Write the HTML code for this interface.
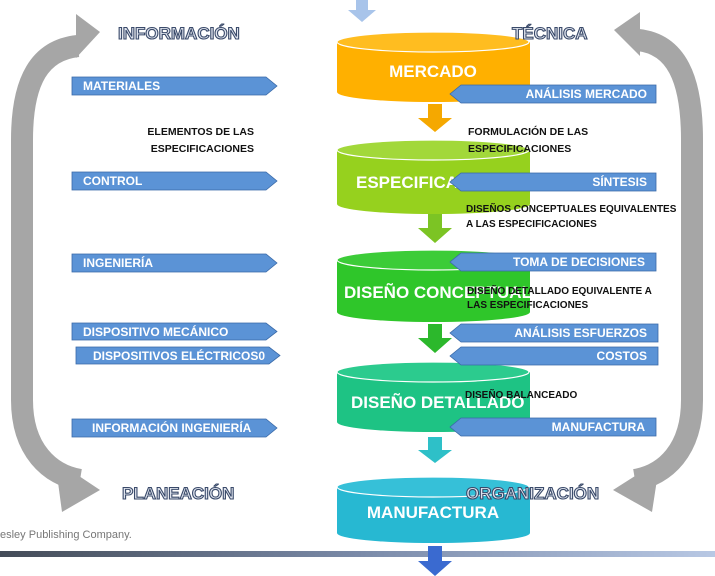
<!DOCTYPE html>
<html><head><meta charset="utf-8"><style>
body{margin:0;background:#fff;}
svg{display:block;font-family:"Liberation Sans",sans-serif;}
.b{font-weight:bold;font-size:12px;fill:#fff;}
.k{font-weight:bold;font-size:10.5px;fill:#111;}
.c{font-weight:bold;font-size:17px;fill:#fff;}
.o{font-weight:bold;font-size:17px;fill:#dfe4ee;stroke:#3a4a6a;stroke-width:1.1;}
</style></head><body>
<svg width="715" height="576" viewBox="0 0 715 576">
<defs>
<linearGradient id="g" x1="0" x2="1"><stop offset="0" stop-color="#444c58"/><stop offset="0.5" stop-color="#7a8aa8"/><stop offset="1" stop-color="#b8c8e4"/></linearGradient>
</defs>
<path d="M78,46 C40,50 22,80 22,140 L22,400 C22,450 50,475 80,480" fill="none" stroke="#a6a6a6" stroke-width="22"/>
<polygon points="76,14 100,32 76,58" fill="#a6a6a6"/>
<polygon points="55,460 100,490 62,512" fill="#a6a6a6"/>
<path d="M638,40 C676,44 692,78 692,140 L692,400 C692,450 665,475 635,480" fill="none" stroke="#a6a6a6" stroke-width="22"/>
<polygon points="640,12 614,30 640,56" fill="#a6a6a6"/>
<polygon points="660,460 613,490 652,512" fill="#a6a6a6"/>
<polygon points="356,0 368,0 368,10 376,10 362,22 348,10 356,10" fill="#a8c4ea"/>
<g>
<path d="M337,42 L337,92 A96,10 0 0 0 530,92 L530,42 Z" fill="#ffb000"/>
<ellipse cx="433" cy="42" rx="96" ry="10" fill="#ffbd20" stroke="#fff" stroke-width="1.2"/>
<text x="433" y="77" text-anchor="middle" class="c">MERCADO</text>
<path d="M337,150 L337,204 A96,10 0 0 0 530,204 L530,150 Z" fill="#96d11e"/>
<ellipse cx="433" cy="150" rx="96" ry="10" fill="#a2d83a" stroke="#fff" stroke-width="1.2"/>
<text x="356" y="188" class="c">ESPECIFICA</text>
<path d="M337,260 L337,312 A96,10 0 0 0 530,312 L530,260 Z" fill="#2fc62a"/>
<ellipse cx="433" cy="260" rx="96" ry="10" fill="#3ccc38" stroke="#fff" stroke-width="1.2"/>
<text x="344" y="298" class="c" font-size="19">DISEÑO CONCEPTUAL</text>
<path d="M337,372 L337,422 A96,10 0 0 0 530,422 L530,372 Z" fill="#1ec384"/>
<ellipse cx="433" cy="372" rx="96" ry="10" fill="#2ccb8e" stroke="#fff" stroke-width="1.2"/>
<text x="351" y="408" class="c" font-size="18">DISEÑO DETALLADO</text>
<path d="M337,487 L337,533 A96,10 0 0 0 530,533 L530,487 Z" fill="#27b8d2"/>
<ellipse cx="433" cy="487" rx="96" ry="10" fill="#36c0d8" stroke="#fff" stroke-width="1.2"/>
<text x="433" y="518" text-anchor="middle" class="c">MANUFACTURA</text>
</g>
<polygon points="428,104 442,104 442,118 452,118 435,132 418,118 428,118" fill="#f5a800"/>
<polygon points="428,214 442,214 442,228 452,228 435,243 418,228 428,228" fill="#7cc424"/>
<polygon points="428,324 442,324 442,338 452,338 435,353 418,338 428,338" fill="#2cb82c"/>
<polygon points="428,437 442,437 442,450 452,450 435,463 418,450 428,450" fill="#2ec0c8"/>
<g fill="#5b93d6" stroke="#3a6aa8" stroke-width="0.8">
<polygon points="72,77 266,77 277,86 266,95 72,95"/>
<polygon points="72,172 266,172 277,181 266,190 72,190"/>
<polygon points="72,254 266,254 277,263 266,272 72,272"/>
<polygon points="72,323 266,323 277,331.5 266,340 72,340"/>
<polygon points="76,347 269,347 280,355.5 269,364 76,364"/>
<polygon points="72,419 266,419 277,428 266,437 72,437"/>
</g>
<g class="b">
<text x="83" y="90">MATERIALES</text>
<text x="83" y="185">CONTROL</text>
<text x="83" y="267">INGENIERÍA</text>
<text x="83" y="336">DISPOSITIVO MECÁNICO</text>
<text x="93" y="360">DISPOSITIVOS ELÉCTRICOS0</text>
<text x="92" y="432">INFORMACIÓN INGENIERÍA</text>
</g>
<g fill="#5b93d6" stroke="#3a6aa8" stroke-width="0.8">
<polygon points="461,85 656,85 656,103 461,103 450,94"/>
<polygon points="461,173 656,173 656,191 461,191 450,182"/>
<polygon points="461,253 656,253 656,271 461,271 450,262"/>
<polygon points="461,324 658,324 658,342 461,342 450,333"/>
<polygon points="461,347 658,347 658,365 461,365 450,356"/>
<polygon points="461,418 656,418 656,436 461,436 450,427"/>
</g>
<g class="b" text-anchor="end">
<text x="647" y="98">ANÁLISIS MERCADO</text>
<text x="647" y="186">SÍNTESIS</text>
<text x="645" y="266">TOMA DE DECISIONES</text>
<text x="647" y="337">ANÁLISIS ESFUERZOS</text>
<text x="647" y="360">COSTOS</text>
<text x="645" y="431">MANUFACTURA</text>
</g>
<g class="k">
<text x="254" y="135" text-anchor="end">ELEMENTOS DE LAS</text>
<text x="254" y="152" text-anchor="end">ESPECIFICACIONES</text>
<text x="468" y="135">FORMULACIÓN DE LAS</text>
<text x="468" y="152">ESPECIFICACIONES</text>
<text x="466" y="212" font-size="10">DISEÑOS CONCEPTUALES EQUIVALENTES</text>
<text x="466" y="227" font-size="10">A LAS ESPECIFICACIONES</text>
<text x="467" y="294" font-size="10">DISEÑO DETALLADO EQUIVALENTE A</text>
<text x="467" y="308" font-size="10">LAS ESPECIFICACIONES</text>
<text x="465" y="398" font-size="10">DISEÑO BALANCEADO</text>
</g>
<text x="118" y="39" class="o">INFORMACIÓN</text>
<text x="512" y="39" class="o">TÉCNICA</text>
<text x="122" y="499" class="o" font-size="15.5">PLANEACIÓN</text>
<text x="466" y="499" class="o" font-size="15.5">ORGANIZACIÓN</text>
<text x="0" y="538" font-size="11" fill="#777">esley Publishing Company.</text>
<rect x="0" y="551" width="715" height="6" fill="url(#g)"/>
<polygon points="428,546 442,546 442,561 452,561 435,576 418,561 428,561" fill="#3a6ad0"/>
</svg>
</body></html>
